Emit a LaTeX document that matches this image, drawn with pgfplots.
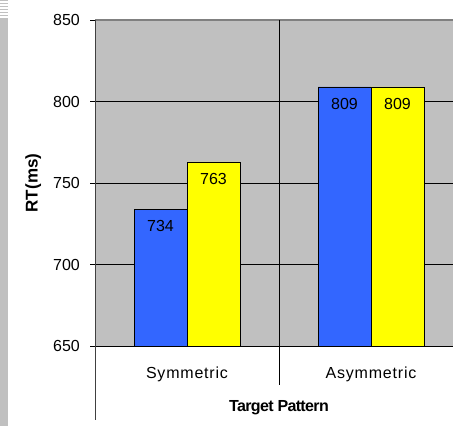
\documentclass[border=0pt]{standalone}
\usepackage{fontspec}
\setmainfont{Liberation Sans}
\newfontfamily\spaced[LetterSpace=5]{Liberation Sans}
\newfontfamily\tight[LetterSpace=-4]{Liberation Sans}
\usepackage{pgfplots}
\pgfplotsset{compat=1.18}
\definecolor{bg}{HTML}{C0C0C0}
\definecolor{barblue}{HTML}{3366FF}
\definecolor{baryellow}{HTML}{FFFF00}
\begin{document}
\begin{tikzpicture}[x=1pt,y=1pt]
\path[use as bounding box] (0,0) rectangle (453,426);
\fill[bg] (0,0) rectangle (8,426);
\foreach \yy in {2,5,8,11,14,17}{
  \draw[white, line width=1.2pt] (0,426-\yy) -- (8,426-\yy);
}
\begin{axis}[
  at={(95pt,80pt)}, anchor=south west,
  scale only axis, width=368pt, height=326pt,
  xmin=-0.5, xmax=1.5, ymin=650, ymax=850,
  axis background/.style={fill=bg},
  axis line style={draw=none},
  clip mode=individual,
  ybar, bar width=53pt,
  ytick={650,700,...,850},
  ymajorgrids, grid style={black, line width=0.8pt},
  xtick={0,1}, xticklabels={Symmetric, Asymmetric},
  xtick style={draw=none},
  ytick pos=left,
  ytick style={black, line width=0.8pt}, tick align=outside, major tick length=5pt,
  /pgf/number format/assume math mode=true,
  yticklabel style={font=\fontsize{16}{19}\selectfont, anchor=east, inner sep=0pt, xshift=-10pt},
  xticklabel style={font=\spaced\fontsize{16}{19}\selectfont, anchor=base, inner sep=0pt, yshift=-27pt},
  xlabel={\tight\bfseries Target Pattern},
  xlabel style={font=\fontsize{16}{19}\selectfont, at={(axis description cs:0.5,-0.2)}, anchor=base, inner sep=0pt},
  ylabel={\bfseries RT(ms)},
  ylabel style={font=\fontsize{17}{20}\selectfont, at={(axis description cs:-0.168,0.5)}, anchor=center, rotate=0},
  nodes near coords,
  every node near coord/.append style={font=\fontsize{16}{19}\selectfont, anchor=north, inner sep=0pt, yshift=-11pt, black},
]
\addplot[fill=barblue, draw=black, line width=0.6pt, bar shift=-26.5pt] coordinates {(0,734) (1,809)};
\addplot[fill=baryellow, draw=black, line width=0.6pt, bar shift=26.5pt] coordinates {(0,763) (1,809)};
\draw[gray, line width=1.4pt] (rel axis cs:0,1) -- (rel axis cs:1,1);
\draw[black!75, line width=1pt] (rel axis cs:0,1) -- (rel axis cs:0,-0.227);
\draw[black, line width=0.8pt] (rel axis cs:0.5,1) -- (rel axis cs:0.5,-0.12);
\end{axis}
\end{tikzpicture}
\end{document}
